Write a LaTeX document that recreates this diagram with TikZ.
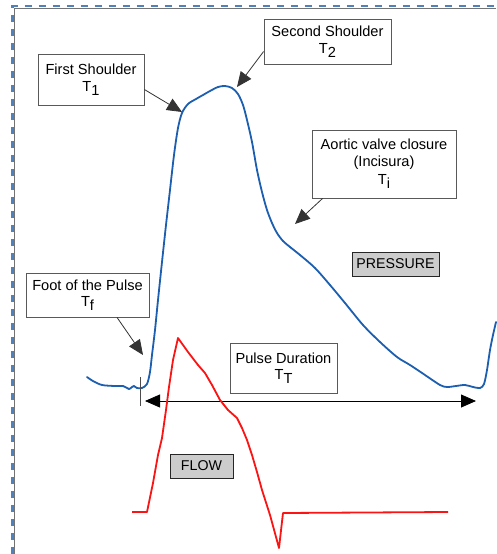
\documentclass[tikz,border=0pt]{standalone}
\usepackage{fontspec}
\setmainfont{Liberation Sans}
\usetikzlibrary{arrows.meta}
\definecolor{frameblue}{RGB}{79,129,189}
\definecolor{pblue}{RGB}{28,94,176}
\definecolor{fred}{RGB}{250,20,20}
\newcommand\Tsb[1]{T\raisebox{-4pt}{#1}}
\begin{document}
\begin{tikzpicture}[x=1pt,y=-1pt,
  lbl/.style={draw=black!65, line width=0.8pt, fill=white, inner sep=0pt, align=center, font=\fontsize{14.6}{16.5}\selectfont},
  tagbox/.style={draw=black!85, line width=0.9pt, fill=black!20, inner sep=0pt, font=\fontsize{14.2}{16}\selectfont},
  ptr/.style={draw=black!80, line width=0.8pt, -{Triangle[length=15pt,width=13pt]}},
  dbl/.style={draw=black, line width=0.8pt, {Triangle[length=15pt,width=13pt]}-{Triangle[length=15pt,width=13pt]}},
  pcurve/.style={draw=pblue, line width=1.8pt, line join=round, line cap=round},
  fcurve/.style={draw=fred, line width=1.8pt, line join=round},
  tick/.style={draw=black!70, line width=0.8pt},
  framegray/.style={draw=black!55, line width=1pt},
  frameblue/.style={draw=frameblue, line width=2.5pt, dash pattern=on 7pt off 7pt}]
\useasboundingbox (0,0) rectangle (496,554);
% frame
\draw[framegray] (14.5,554) -- (14.5,8.5) -- (496,8.5);
\draw[frameblue] (12.5,554) -- (12.5,6) -- (496,6);
% pressure curve
\draw[pcurve] plot[smooth, tension=0.5] coordinates {(87,377) (93,381) (102,385) (115,386) (123,386) (129,389) (132,387) (134,386) (137,388) (142,388) (147,384) (150,372) (152,355) (155,330) (158,300) (162,262) (166,225) (170,190) (174,155) (178,128) (182,113) (188,104) (196,99) (203,95) (210,91) (218,87) (225,86) (232,88) (238,94) (243,105) (247,120) (252,142) (257,170) (262,192) (267,210) (272,223) (277,233) (283,241) (290,247) (300,255) (315,268) (330,285) (345,303) (363,325) (380,342) (397,357) (410,365) (425,375) (440,385) (447,387) (456,386) (465,385) (473,387) (480,388) (484,384) (487,370) (490,350) (493,335) (496,322)};
% duration arrow and tick
\coordinate (pdL) at (145,401);
\coordinate (pdR) at (476,401);
\coordinate (tkA) at (140,377);
\coordinate (tkB) at (140,406);
\draw[tick] (tkA) -- (tkB);
\draw[dbl] (pdL) -- (pdR);
% flow curve
\draw[fcurve] (132,512) -- (147,512) -- (153,483) -- (158,455) -- (162,438) -- (166,410) -- (169,387) -- (173,360) -- (178,338) -- (188,352) -- (198,365) -- (205,373) -- (212,385) -- (220,400) -- (228,410) -- (237,418) -- (242,428) -- (247,440) -- (252,455) -- (257,472) -- (262,490) -- (270,515) -- (279,548) -- (283,513) -- (448,512);
% labels
\node[lbl, minimum width=106pt, minimum height=51pt] (fs) at (91,79.5) {First Shoulder\\\Tsb{1}};
\node[lbl, minimum width=127pt, minimum height=45pt] (ss) at (327.5,41.5) {Second Shoulder\\\Tsb{2}};
\node[lbl, minimum width=144pt, minimum height=68pt] (av) at (384,164) {Aortic valve closure\\(Incisura)\\[2pt]\Tsb{i}};
\node[lbl, minimum width=123pt, minimum height=44pt] (ft) at (87.5,295) {Foot of the Pulse\\\Tsb{f}};
\node[lbl, minimum width=107pt, minimum height=50pt] (pd) at (283.5,368) {Pulse Duration\\\Tsb{T}};
\node[tagbox, minimum width=87pt, minimum height=24pt] (pr) at (395.5,264) {PRESSURE};
\node[tagbox, minimum width=63pt, minimum height=24pt] (fl) at (201.5,466) {FLOW};
% pointer tips
\coordinate (t1) at (182,112);
\coordinate (t2) at (237,87);
\coordinate (ti) at (295,224);
\coordinate (tf) at (143,355);
\draw[ptr] ([yshift=-10pt]fs.east) -- (t1);
\draw[ptr] ([yshift=-10pt]ss.west) -- (t2);
\draw[ptr] ([xshift=11pt]av.south west) -- (ti);
\draw[ptr] ([xshift=29.5pt]ft.south) -- (tf);
\end{tikzpicture}
\end{document}
